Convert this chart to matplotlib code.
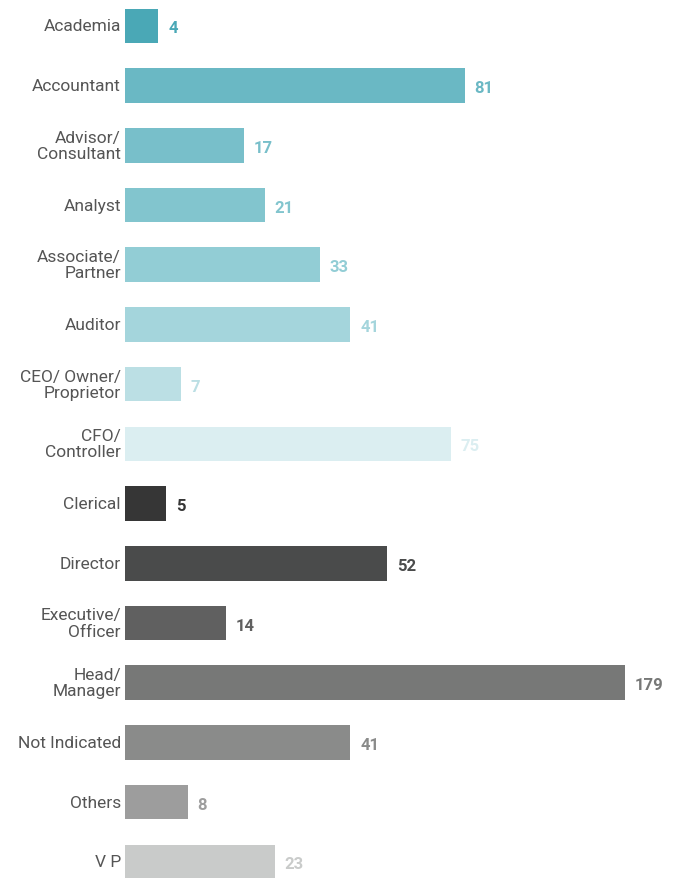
import numpy as np
import matplotlib
matplotlib.use("Agg")
import matplotlib.pyplot as plt

roles = ["Academia", "Accountant", "Advisor/\nConsultant", "Analyst",
         "Associate/\nPartner", "Auditor", "CEO/ Owner/\nProprietor",
         "CFO/\nController", "Clerical", "Director", "Executive/\nOfficer",
         "Head/\nManager", "Not Indicated", "Others", "V P"]
counts = [4, 81, 17, 21, 33, 41, 7, 75, 5, 52, 14, 179, 41, 8, 23]
colors = ["#4aa8b6", "#6ab8c4", "#78bfca", "#82c5ce", "#92cdd5", "#a4d5dc",
          "#bbdfe4", "#dbeef1", "#363636", "#4a4b4b", "#606060", "#777877",
          "#8a8b8a", "#9d9d9d", "#c9cbca"]

plt.rcParams['font.family'] = ['Roboto', 'DejaVu Sans']

# compressed scale so the long bar does not swamp the small ones
C = 28.0
def fwd(v):
    return np.log1p(np.maximum(v, 0) / C)
def inv(u):
    return C * np.expm1(u)

fig = plt.figure(figsize=(6.79, 8.79), dpi=100)
ax = fig.add_axes([125 / 679, 0, 554 / 679, 1])
ax.set_xscale('function', functions=(fwd, inv))

y = np.arange(len(roles))
ax.barh(y, counts, height=0.58, color=colors, left=0)
ax.set_xlim(0, 229)
ax.set_ylim(14.27, -0.45)

for i, (r, v, c) in enumerate(zip(roles, counts, colors)):
    ax.annotate(r, xy=(0, i), xytext=(-3, 0), textcoords='offset points',
                ha='right', va='center', fontsize=12.5, color='#555555',
                linespacing=1.1)
    ax.annotate(str(v), xy=(v, i), xytext=(7, -1.5), textcoords='offset points',
                ha='left', va='center', fontsize=12, fontweight='bold',
                color=c)

ax.axis('off')
fig.savefig("out.png", dpi=100, facecolor='white')
